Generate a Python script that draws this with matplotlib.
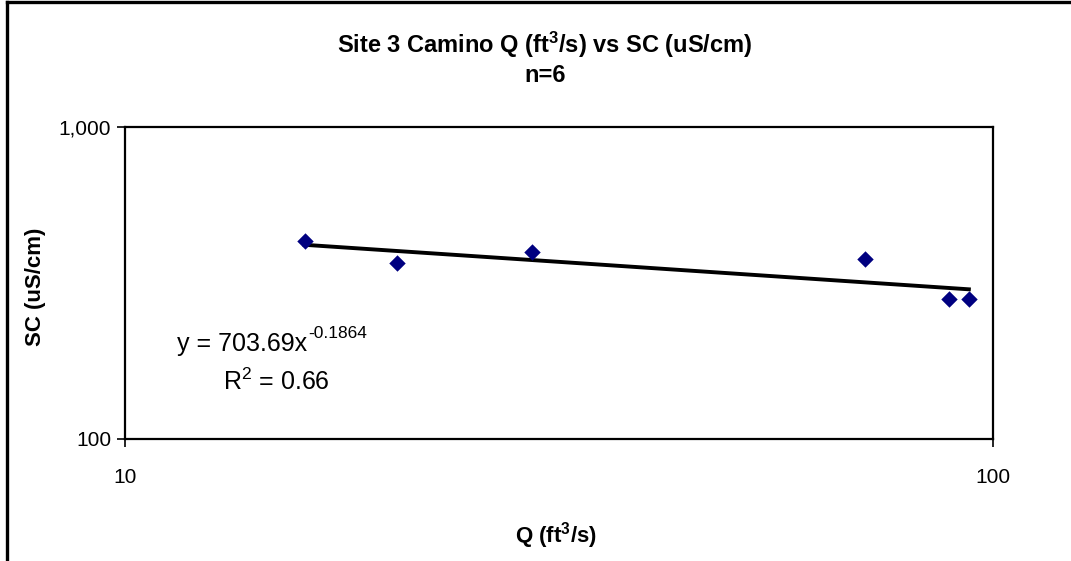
import numpy as np
import matplotlib
matplotlib.use("Agg")
import matplotlib.pyplot as plt
from matplotlib.lines import Line2D
from matplotlib.ticker import FixedLocator, FixedFormatter, NullLocator

plt.rcParams['font.family'] = ['Liberation Sans', 'DejaVu Sans']
plt.rcParams['mathtext.fontset'] = 'custom'
plt.rcParams['mathtext.rm'] = 'Liberation Sans'
plt.rcParams['mathtext.it'] = 'Liberation Sans'
plt.rcParams['mathtext.bf'] = 'Liberation Sans:bold'

# Data
q_values = [16.1, 20.6, 29.4, 71.2, 89.0, 93.8]
sc_values = [431, 367, 397, 378, 281, 281]
fit_coef = 703.69
fit_exp = -0.1864
r_squared = 0.66
x_ticks = [10, 100]
x_tick_labels = ["10", "100"]
y_ticks = [100, 1000]
y_tick_labels = ["100", "1,000"]

W, H = 1071, 561
fig = plt.figure(figsize=(W / 100, H / 100), dpi=100)
fig.patch.set_facecolor('white')

left, right, top, bottom = 125, 993, 127, 439
ax = fig.add_axes([left / W, 1 - bottom / H, (right - left) / W, (bottom - top) / H])
ax.set_xscale('log')
ax.set_yscale('log')
ax.set_xlim(10, 100)
ax.set_ylim(100, 1000)

ax.scatter(q_values, sc_values, marker='D', s=70, color='#000080', zorder=3, linewidths=0)

xs = np.geomspace(min(q_values), max(q_values), 200)
ax.plot(xs, fit_coef * xs ** fit_exp, color='black', lw=2.8, zorder=2)

ax.xaxis.set_major_locator(FixedLocator(x_ticks))
ax.xaxis.set_major_formatter(FixedFormatter(x_tick_labels))
ax.xaxis.set_minor_locator(NullLocator())
ax.yaxis.set_major_locator(FixedLocator(y_ticks))
ax.yaxis.set_major_formatter(FixedFormatter(y_tick_labels))
ax.yaxis.set_minor_locator(NullLocator())
ax.tick_params(axis='both', direction='out', length=6, width=1.2, labelsize=15, colors='black')
ax.tick_params(axis='x', pad=15)
ax.tick_params(axis='y', pad=4)
for sp in ax.spines.values():
    sp.set_linewidth(1.6)
    sp.set_color('black')

tx = 545 / W
fig.text(tx, 1 - 45 / H, r'Site 3 Camino Q (ft$\mathbf{^3}$/s) vs SC (uS/cm)',
         ha='center', va='center', fontsize=17, fontweight='bold')
fig.text(tx, 1 - 76 / H, 'n=6', ha='center', va='center', fontsize=17, fontweight='bold')

fig.text(556 / W, 1 - 536 / H, r'Q (ft$\mathbf{^3}$/s)', ha='center', va='center',
         fontsize=16, fontweight='bold')
fig.text(36 / W, 1 - 287 / H, 'SC (uS/cm)', ha='center', va='center', rotation=90,
         fontsize=16, fontweight='bold')

eq = fig.text(177 / W, 1 - 344 / H, 'y = 703.69x', ha='left', va='center', fontsize=18)
fig.text(223 / W, 1 - 382 / H, r'R$^2$' + f' = {r_squared:.2f}', ha='left', va='center', fontsize=18)

fig.canvas.draw()
renderer = fig.canvas.get_renderer()
eqbb = eq.get_window_extent(renderer)
fig.text((eqbb.x1 + 1) / W, (eqbb.y1 - 9) / H, f'{fit_exp:.4f}', fontsize=12.5,
         ha='left', va='bottom')

# outer chart border (top and left visible)
fig.add_artist(Line2D([7 / W, 7 / W], [0, 1 - 2 / H], transform=fig.transFigure, color='black', lw=2.4))
fig.add_artist(Line2D([7 / W, 1], [1 - 2 / H, 1 - 2 / H], transform=fig.transFigure, color='black', lw=2.4))

fig.savefig('out.png', dpi=100)
